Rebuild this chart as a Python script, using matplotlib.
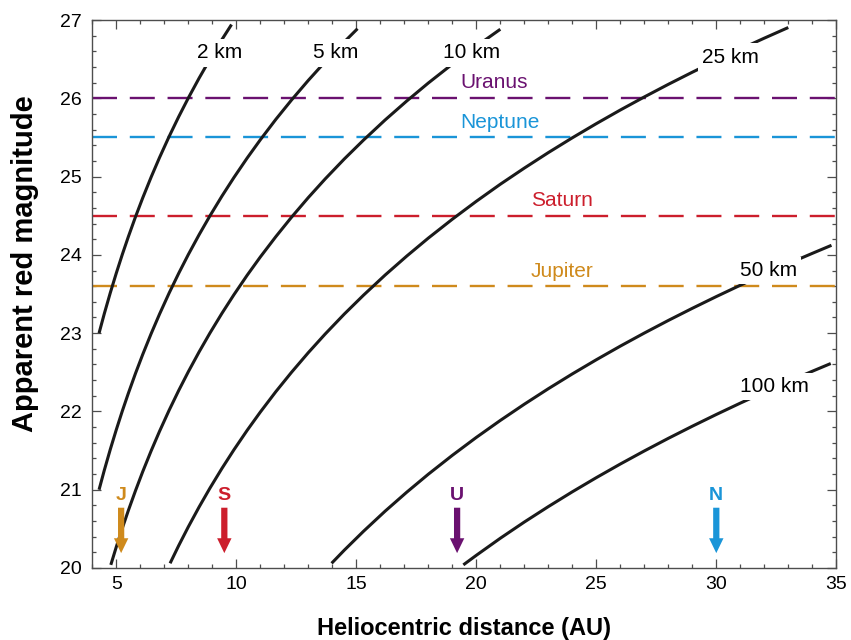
import matplotlib
matplotlib.use('Agg')
import matplotlib.pyplot as plt
from matplotlib.ticker import MultipleLocator

plt.rcParams['font.family'] = ['Liberation Sans', 'DejaVu Sans']

# ---------------- data ----------------
size_labels = ['2 km', '5 km', '10 km', '25 km', '50 km', '100 km']

x_2km = [4.28, 4.5, 4.75, 5.0, 5.25, 5.5, 5.8, 6.1, 6.45, 6.8, 7.2, 7.6, 8.0, 8.45, 8.9, 9.35, 9.8]
y_2km = [23.0, 23.25, 23.517, 23.768, 24.006, 24.231, 24.487, 24.728, 24.993, 25.243, 25.512,
         25.765, 26.004, 26.258, 26.498, 26.726, 26.942]

x_5km = [4.28, 4.5, 4.75, 5.0, 5.25, 5.5, 5.8, 6.1, 6.45, 6.8, 7.2, 7.6, 8.0, 8.45, 8.9,
         9.4, 9.9, 10.45, 11.0, 11.65, 12.3, 13.0, 13.7, 14.35, 15.05]
y_5km = [21.0, 21.25, 21.517, 21.768, 22.006, 22.231, 22.487, 22.728, 22.993, 23.243, 23.512,
         23.765, 24.004, 24.258, 24.498, 24.75, 24.988, 25.236, 25.47, 25.732, 25.978, 26.229,
         26.466, 26.675, 26.889]

x_10km = [4.77, 5.0, 5.25, 5.5, 5.8, 6.1, 6.45, 6.8, 7.2, 7.6, 8.0, 8.45, 8.9, 9.4, 9.9, 10.45,
          11.0, 11.65, 12.3, 13.0, 13.7, 14.5, 15.3, 16.2, 17.1, 18.0, 19.0, 20.0, 21.0]
y_10km = [20.04, 20.271, 20.509, 20.734, 20.989, 21.231, 21.496, 21.746, 22.015, 22.268, 22.507,
          22.761, 23.001, 23.253, 23.491, 23.739, 23.973, 24.234, 24.481, 24.732, 24.969, 25.225,
          25.466, 25.723, 25.965, 26.195, 26.436, 26.665, 26.882]

x_25km = [7.24, 7.6, 8.0, 8.45, 8.9, 9.4, 9.9, 10.45, 11.0, 11.65, 12.3, 13.0, 13.7, 14.5, 15.3,
          16.2, 17.1, 18.0, 19.0, 20.0, 21.0, 22.0, 23.0, 24.0, 25.0, 26.0, 27.0, 28.0, 29.0,
          30.0, 31.0, 32.0, 33.0]
y_25km = [20.06, 20.287, 20.526, 20.78, 21.02, 21.272, 21.51, 21.758, 21.992, 22.254, 22.5,
          22.751, 22.988, 23.244, 23.485, 23.742, 23.984, 24.214, 24.455, 24.684, 24.902, 25.108,
          25.306, 25.495, 25.676, 25.85, 26.017, 26.178, 26.333, 26.483, 26.628, 26.768, 26.904]

x_50km = [13.97, 14.5, 15.3, 16.2, 17.1, 18.0, 19.0, 20.0, 21.0, 22.0, 23.0, 24.0, 25.0, 26.0,
          27.0, 28.0, 29.0, 30.0, 31.0, 32.0, 33.0, 34.0, 34.8]
y_50km = [20.06, 20.228, 20.469, 20.726, 20.968, 21.198, 21.439, 21.668, 21.885, 22.092, 22.29,
          22.479, 22.66, 22.834, 23.001, 23.162, 23.317, 23.467, 23.612, 23.752, 23.888, 24.019,
          24.122]

x_100km = [19.46, 20.0, 21.0, 22.0, 23.0, 24.0, 25.0, 26.0, 27.0, 28.0, 29.0, 30.0, 31.0, 32.0,
           33.0, 34.0, 34.77]
y_100km = [20.04, 20.162, 20.38, 20.587, 20.784, 20.973, 21.154, 21.328, 21.495, 21.656, 21.811,
           21.961, 22.106, 22.246, 22.382, 22.513, 22.612]

# curve label anchor positions (x center, y baseline)
label_x = [9.29, 14.16, 19.79, 30.59, 32.17, 32.41]
label_y = [26.51, 26.51, 26.51, 26.455, 23.73, 22.25]

planet_names = ['Uranus', 'Neptune', 'Saturn', 'Jupiter']
planet_limits = [26.0, 25.5, 24.5, 23.6]
planet_colors = ['#6a1170', '#1a95d8', '#cc1e2c', '#cf8a1c']
planet_label_x = [20.75, 20.99, 23.57, 23.59]
planet_label_y = [26.13, 25.62, 24.625, 23.72]

arrow_letters = ['J', 'S', 'U', 'N']
arrow_distances = [5.2, 9.5, 19.2, 30.0]
arrow_colors = ['#cf8a1c', '#cc1e2c', '#6a1170', '#1a95d8']

# ---------------- figure ----------------
fig = plt.figure(figsize=(8.51, 6.40), dpi=100)
ax = fig.add_axes([0.1085, 0.1125, 0.8742, 0.85625])

# dashed planet limit lines
lw_d = 1.7
for mag, col in zip(planet_limits, planet_colors):
    ax.plot([4, 35], [mag, mag], color=col, lw=lw_d,
            linestyle=(0, (18 / lw_d, 9.2 / lw_d)), zorder=2,
            dash_capstyle='butt')

for name, col, px, py in zip(planet_names, planet_colors, planet_label_x, planet_label_y):
    ax.text(px, py, name, color=col, fontsize=15, ha='center', va='baseline', zorder=3)

# magnitude curves
curves = [(x_2km, y_2km), (x_5km, y_5km), (x_10km, y_10km),
          (x_25km, y_25km), (x_50km, y_50km), (x_100km, y_100km)]
for (xs, ys) in curves:
    ax.plot(xs, ys, color='#1a1a1a', lw=2.2, zorder=4, solid_capstyle='butt',
            solid_joinstyle='round')

for lab, lx, ly in zip(size_labels, label_x, label_y):
    ax.text(lx, ly, lab, fontsize=15, ha='center', va='baseline', color='black', zorder=5,
            bbox=dict(boxstyle='square,pad=0.2', fc='white', ec='none'))

# planet position arrows
for letter, d, col in zip(arrow_letters, arrow_distances, arrow_colors):
    ax.arrow(d, 20.77, 0, -0.58, width=0.26, head_width=0.6, head_length=0.19,
             length_includes_head=True, color=col, lw=0, zorder=6)
    ax.text(d, 20.87, letter, color=col, fontsize=14, fontweight='bold',
            ha='center', va='baseline', zorder=6)

ax.set_xlim(4, 35)
ax.set_ylim(20, 27)
ax.xaxis.set_major_locator(MultipleLocator(5))
ax.xaxis.set_minor_locator(MultipleLocator(1))
ax.yaxis.set_major_locator(MultipleLocator(1))
ax.yaxis.set_minor_locator(MultipleLocator(0.2))

spine_col = '#4d4d4d'
for s in ax.spines.values():
    s.set_color(spine_col)
    s.set_linewidth(1.0)

ax.tick_params(which='both', direction='in', top=True, right=True, color=spine_col, width=0.9)
ax.tick_params(which='major', length=6.5, labelsize=14)
ax.tick_params(which='minor', length=3)
ax.tick_params(axis='x', which='major', pad=6)
ax.tick_params(axis='y', which='major', pad=7.5)

ax.set_xlabel('Heliocentric distance (AU)', fontsize=17, fontweight='bold')
ax.xaxis.set_label_coords(0.5, -0.1095)
ax.xaxis.label.set_va('center')
ax.set_ylabel('Apparent red magnitude', fontsize=21, fontweight='bold')
ax.yaxis.set_label_coords(-0.0905, 0.555)
ax.yaxis.label.set_va('center')

fig.savefig('out.png', dpi=100)
